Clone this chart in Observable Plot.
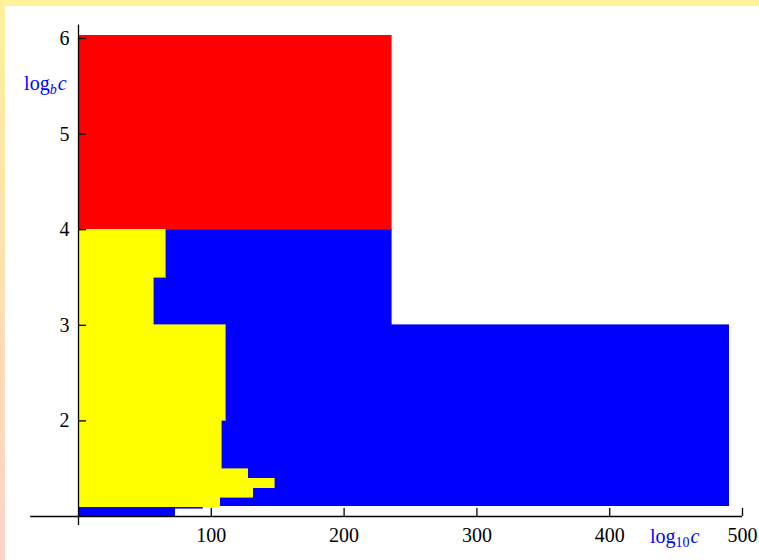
<!DOCTYPE html>
<html>
<head>
<meta charset="utf-8">
<script src="https://cdn.jsdelivr.net/npm/d3@7"></script>
<script src="https://cdn.jsdelivr.net/npm/@observablehq/plot@0.6"></script>
<style>
  html, body { margin: 0; padding: 0; background: #fff; }
  #wrap { position: relative; width: 759px; height: 560px; background: #fff; overflow: hidden; }
  #topband { position: absolute; left: 0; top: 0; width: 759px; height: 6px; background: #fff09a; }
  #leftband { position: absolute; left: 0; top: 0; width: 5px; height: 560px;
    background: linear-gradient(to bottom, #fff09a 0%, #ffe0b0 50%, #ffd2c8 100%); }
  #chart { position: absolute; left: 0; top: 0; }
</style>
</head>
<body>
<div id="wrap"><div id="topband"></div><div id="leftband"></div><div id="chart"></div></div>
<script>
// ---- data ----
const xTicks = [100, 200, 300, 400, 500];
const yTicks = [2, 3, 4, 5, 6];

// red block
const redX2 = [235.7];
const redY1 = [4];
const redY2 = [6.03];

// blue blocks
const blueX2 = [235.7, 490, 73, 93.4];
const blueY1 = [3, 1.105, 1.0, 1.083];
const blueY2 = [4, 3, 1.097, 1.097];

// yellow staircase
const yellowX2 = [65.7, 56.7, 110.7, 107.7, 127.8, 147.6, 131.5, 106.7];
const yellowY1 = [3.5, 3.0, 2.0, 1.495, 1.395, 1.296, 1.196, 1.097];
const yellowY2 = [4, 3.5, 3.0, 2.0, 1.495, 1.395, 1.296, 1.196];

// axis extents and labels
const xAxisExtent = [-36, 500];
const yAxisExtent = [0.906, 6.14];
const xLabel = "log_10 c";
const yLabel = "log_b c";

// ---- build table ----
const cells = [];
blueX2.forEach((x2, i) => cells.push({x1: 0, x2, y1: blueY1[i], y2: blueY2[i], fill: "#0000ff"}));
redX2.forEach((x2, i) => cells.push({x1: 0, x2, y1: redY1[i], y2: redY2[i], fill: "#ff0000"}));
yellowX2.forEach((x2, i) => cells.push({x1: 0, x2, y1: yellowY1[i], y2: yellowY2[i], fill: "#ffff00"}));

const chart = Plot.plot({
  width: 759,
  height: 560,
  marginLeft: 78,
  marginRight: 17,
  marginTop: 38,
  marginBottom: 44,
  x: {domain: [0, 500]},
  y: {domain: [1, 6]},
  color: {type: "identity"},
  style: {background: "transparent", fontFamily: "'Liberation Serif', serif", fontSize: "20px", color: "black", overflow: "visible"},
  marks: [
    Plot.rect(cells, {x1: "x1", x2: "x2", y1: "y1", y2: "y2", fill: "fill", stroke: "fill", strokeWidth: 0.6, shapeRendering: "crispEdges"}),
    Plot.ruleY([1], {x1: xAxisExtent[0], x2: xAxisExtent[1], stroke: "black", strokeWidth: 1.3}),
    Plot.ruleX([0], {y1: yAxisExtent[0], y2: yAxisExtent[1], stroke: "black", strokeWidth: 1.3}),
    Plot.axisX(xTicks, {tickSize: -8, tickPadding: 19, label: null, strokeWidth: 1.3, fontSize: 20, tickFormat: d3.format("d")}),
    Plot.axisY(yTicks, {tickSize: -8, tickPadding: 17, label: null, strokeWidth: 1.3, fontSize: 20, tickFormat: d3.format("d")}),
    Plot.text([yLabel], {x: -9, y: 5.53, text: d => d, textAnchor: "end", fill: "#0000ff", fontSize: 20}),
    Plot.text([xLabel], {x: 449, y: 0.79, text: d => d, textAnchor: "middle", fill: "#0000ff", fontSize: 20})
  ]
});
document.getElementById("chart").appendChild(chart);

// rich-text subscripts for the axis labels
const NS = "http://www.w3.org/2000/svg";
chart.querySelectorAll("text").forEach(t => {
  const s = t.textContent;
  if (s === yLabel || s === xLabel) {
    const [base, rest] = s.split("_");
    const [sub, v] = rest.split(" ");
    while (t.firstChild) t.removeChild(t.firstChild);
    const a = document.createElementNS(NS, "tspan"); a.textContent = base; t.appendChild(a);
    const b = document.createElementNS(NS, "tspan"); b.textContent = sub;
    b.setAttribute("font-size", "14"); b.setAttribute("dy", "4");
    if (sub === "b") b.setAttribute("font-style", "italic");
    t.appendChild(b);
    const c = document.createElementNS(NS, "tspan"); c.textContent = v;
    c.setAttribute("font-style", "italic"); c.setAttribute("dy", "-4"); c.setAttribute("dx", "1");
    t.appendChild(c);
  }
});
</script>
</body>
</html>
